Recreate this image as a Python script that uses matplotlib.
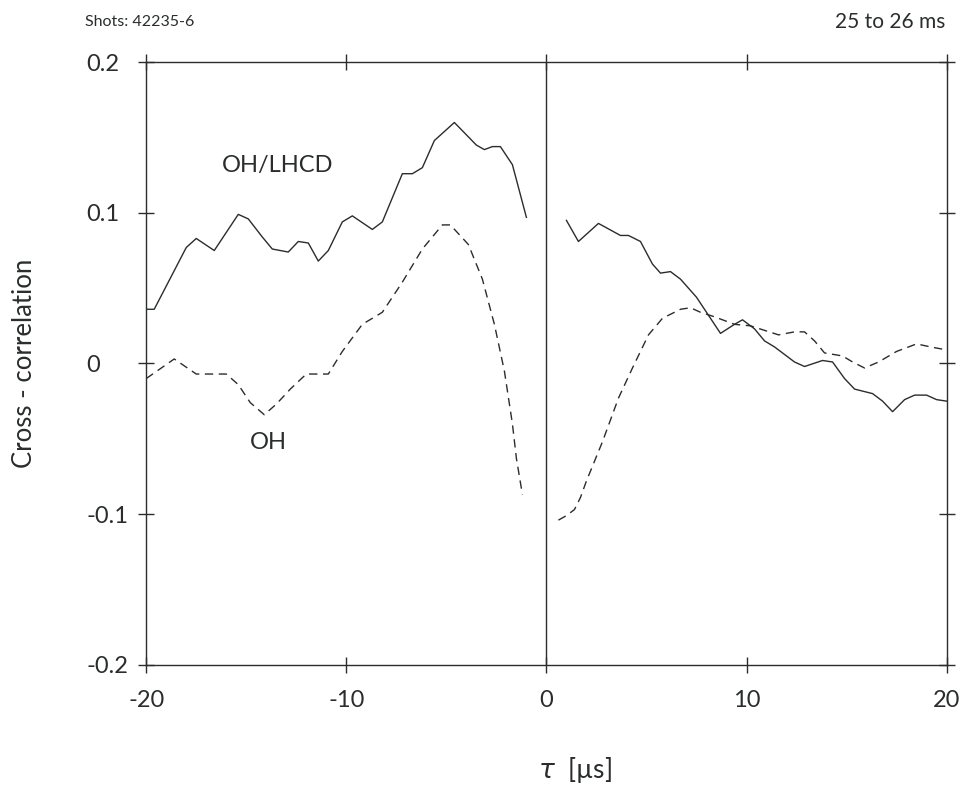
import matplotlib
matplotlib.use("Agg")
import matplotlib.pyplot as plt

plt.rcParams['font.family'] = ['Lato', 'DejaVu Sans']

# OH/LHCD (solid), tau < 0
tau_lhcd_neg = [-20.0, -19.6, -18.0, -17.5, -16.6, -15.4, -14.9, -14.2, -13.7, -12.9, -12.4,
                -11.9, -11.4, -10.9, -10.2, -9.7, -8.7, -8.2, -7.2, -6.7, -6.2, -5.6, -4.6,
                -3.5, -3.1, -2.7, -2.3, -1.7, -1.0]
cc_lhcd_neg = [0.036, 0.036, 0.077, 0.083, 0.075, 0.099, 0.096, 0.084, 0.076, 0.074, 0.081,
               0.080, 0.068, 0.075, 0.094, 0.098, 0.089, 0.094, 0.126, 0.126, 0.130, 0.148, 0.160,
               0.145, 0.142, 0.144, 0.144, 0.132, 0.097]

# OH/LHCD (solid), tau > 0
tau_lhcd_pos = [1.0, 1.6, 2.6, 3.7, 4.1, 4.7, 5.3, 5.7, 6.2, 6.7, 7.5, 8.1, 8.7, 9.4, 9.8,
                10.4, 10.9, 11.4, 12.4, 12.9, 13.8, 14.3, 14.9, 15.4, 16.3, 16.8, 17.3,
                17.9, 18.4, 19.0, 19.5, 20.0]
cc_lhcd_pos = [0.095, 0.081, 0.093, 0.085, 0.085, 0.081, 0.066, 0.060, 0.061, 0.056, 0.044,
               0.032, 0.020, 0.026, 0.029, 0.023, 0.015, 0.011, 0.001, -0.002, 0.002, 0.001,
               -0.010, -0.017, -0.020, -0.025, -0.032, -0.024, -0.021, -0.021, -0.024, -0.025]

# OH (dashed), tau < 0
tau_oh_neg = [-20.0, -18.6, -17.5, -16.6, -16.0, -15.4, -14.8, -14.1, -13.5, -12.8, -12.0,
              -10.9, -10.2, -9.2, -8.2, -7.2, -6.2, -5.2, -4.8, -3.9, -3.2, -2.6, -2.1,
              -1.7, -1.5, -1.2]
cc_oh_neg = [-0.010, 0.003, -0.007, -0.007, -0.007, -0.014, -0.026, -0.034, -0.027, -0.017,
             -0.007, -0.007, 0.008, 0.026, 0.034, 0.054, 0.076, 0.092, 0.092, 0.079, 0.056,
             0.026, -0.005, -0.040, -0.063, -0.087]

# OH (dashed), tau > 0
tau_oh_pos = [0.6, 1.0, 1.4, 1.7, 2.0, 2.4, 2.8, 3.6, 4.3, 5.1, 5.8, 6.7, 7.2, 7.7, 8.4,
              9.4, 10.2, 10.9, 11.6, 12.4, 12.9, 13.4, 13.9, 14.8, 15.3, 15.9, 16.6, 17.5,
              18.5, 19.2, 20.0]
cc_oh_pos = [-0.104, -0.101, -0.097, -0.089, -0.078, -0.065, -0.052, -0.023, -0.003, 0.019,
             0.030, 0.036, 0.037, 0.034, 0.031, 0.026, 0.025, 0.022, 0.019, 0.021, 0.021,
             0.015, 0.007, 0.005, 0.001, -0.003, 0.001, 0.008, 0.013, 0.011, 0.009]

xticks = [-20, -10, 0, 10, 20]
xtick_labels = ['-20', '-10', '0', '10', '20']
yticks = [0.2, 0.1, 0, -0.1, -0.2]
ytick_labels = ['0.2', '0.1', '0', '-0.1', '-0.2']

ink = '#2a2d2c'

fig = plt.figure(figsize=(9.62, 7.98), dpi=100)
ax = fig.add_axes([0.152, 0.167, 0.832, 0.755])

ax.plot(tau_lhcd_neg, cc_lhcd_neg, color=ink, lw=1.0)
ax.plot(tau_lhcd_pos, cc_lhcd_pos, color=ink, lw=1.0)
ax.plot(tau_oh_neg, cc_oh_neg, color=ink, lw=1.0, dashes=(6, 4))
ax.plot(tau_oh_pos, cc_oh_pos, color=ink, lw=1.0, dashes=(6, 4))
ax.axvline(0, color=ink, lw=1.0)

ax.set_xlim(-20, 20)
ax.set_ylim(-0.2, 0.2)
ax.set_xticks(xticks)
ax.set_xticklabels(xtick_labels, fontsize=17, color=ink)
ax.set_yticks(yticks)
ax.set_yticklabels(ytick_labels, fontsize=17, color=ink)
for lab in ax.get_yticklabels():
    lab.set_ha('left')
ax.tick_params(axis='y', direction='inout', length=12, width=1, colors=ink,
               left=True, right=True, pad=37)
ax.tick_params(axis='x', direction='inout', length=12, width=1, colors=ink,
               bottom=True, top=True, pad=12)
for sp in ax.spines.values():
    sp.set_color(ink)
    sp.set_linewidth(1.0)

ax.text(-16.2, 0.127, 'OH/LHCD', fontsize=17, color=ink)
ax.text(-14.8, -0.057, 'OH', fontsize=17, color=ink)

fig.text(0.088, 0.972, 'Shots: 42235-6', fontsize=11.5, color=ink, va='center')
fig.text(0.983, 0.972, '25 to 26 ms', fontsize=15, color=ink, va='center', ha='right')

fig.text(0.025, 0.545, 'Cross - correlation', fontsize=18.5, color=ink,
         rotation=90, va='center', ha='center')
fig.text(0.598, 0.035, r'$\tau$  [µs]', fontsize=19, color=ink, va='center', ha='center')

fig.savefig('out.png', dpi=100, facecolor='white')
